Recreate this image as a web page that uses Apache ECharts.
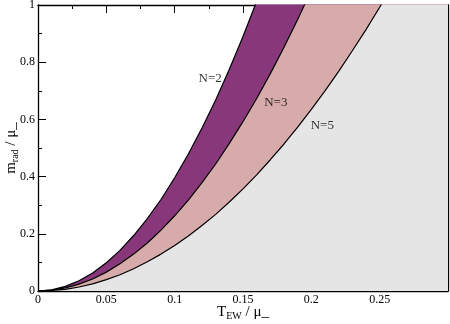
<!DOCTYPE html>
<html>
<head>
<meta charset="utf-8">
<script src="https://cdn.jsdelivr.net/npm/echarts@6/dist/echarts.min.js"></script>
<style>
  html, body { margin: 0; padding: 0; background: #fff; }
  #main { width: 450px; height: 324px; }
</style>
</head>
<body>
<div id="main"></div>
<script>
// values (x = T_EW / mu_, y = m_rad / mu_)
const curveN2 = [
  [0, 0], [0.01, 0.004], [0.02, 0.016], [0.03, 0.036], [0.04, 0.063], [0.05, 0.099],
  [0.06, 0.142], [0.07, 0.194], [0.08, 0.253], [0.09, 0.320], [0.10, 0.396],
  [0.11, 0.479], [0.12, 0.570], [0.13, 0.668], [0.14, 0.775], [0.15, 0.890],
  [0.16, 1.013], [0.17, 1.143], [0.30, 3.56]
]
const curveN3 = [
  [0, 0], [0.01, 0.003], [0.02, 0.011], [0.03, 0.024], [0.04, 0.042], [0.05, 0.066],
  [0.06, 0.095], [0.07, 0.129], [0.08, 0.168], [0.09, 0.213], [0.10, 0.263],
  [0.11, 0.318], [0.12, 0.379], [0.13, 0.444], [0.14, 0.516], [0.15, 0.592],
  [0.16, 0.673], [0.17, 0.760], [0.18, 0.852], [0.19, 0.949], [0.20, 1.052],
  [0.21, 1.160], [0.30, 2.37]
]
const curveN5 = [
  [0, 0], [0.01, 0.002], [0.02, 0.006], [0.03, 0.014], [0.04, 0.025], [0.05, 0.040],
  [0.06, 0.057], [0.07, 0.078], [0.08, 0.102], [0.09, 0.129], [0.10, 0.159],
  [0.11, 0.192], [0.12, 0.229], [0.13, 0.268], [0.14, 0.311], [0.15, 0.357],
  [0.16, 0.406], [0.17, 0.459], [0.18, 0.514], [0.19, 0.573], [0.20, 0.635],
  [0.21, 0.700], [0.22, 0.768], [0.23, 0.840], [0.24, 0.914], [0.25, 0.992],
  [0.26, 1.073], [0.27, 1.157], [0.30, 1.43]
]
// curve labels
const curveLabels = [
  { name: 'N=2', value: [0.126, 0.743] },
  { name: 'N=3', value: [0.174, 0.659] },
  { name: 'N=5', value: [0.208, 0.578] }
]
const xTicks = [0, 0.05, 0.1, 0.15, 0.2, 0.25]

const font = 'Liberation Serif'

let tickCommon = {
  axisLine: { show: true, onZero: false, lineStyle: { color: '#000', width: 1.3 } },
  axisTick: { show: true, inside: true, length: 8, lineStyle: { color: '#000', width: 1 } },
  minorTick: { show: true, splitNumber: 2, length: 4, lineStyle: { color: '#000', width: 1 } },
  splitLine: { show: false }
}

// subscript style for axis titles
const titleRich = {
  m: { fontFamily: font, fontSize: 15, color: '#000' },
  s: { fontFamily: font, fontSize: 10, color: '#000', verticalAlign: 'bottom', padding: [7, 0, 0, 0] }
}

function areaSeries (name, data, color) {
  return {
    name: name,
    type: 'line',
    data: data,
    smooth: false,
    symbol: 'none',
    clip: true,
    lineStyle: { color: '#000', width: 1.2 },
    areaStyle: { color: color, opacity: 1, origin: 'start' }
  }
}

let myChart = echarts.init(document.getElementById('main'), null, { renderer: 'canvas' })
let option = {
  animation: false,
  textStyle: { fontFamily: font },
  grid: { left: 38, right: 2, top: 5, bottom: 33, containLabel: false, outerBoundsMode: 'none' },
  xAxis: [
    Object.assign({
      type: 'value',
      min: 0,
      max: 0.3,
      interval: 0.05,
      position: 'bottom',
      name: '{m|T}{s|EW}{m| / μ_}',
      nameLocation: 'middle',
      nameGap: 13,
      nameMoveOverlap: false,
      nameTextStyle: { rich: titleRich },
      axisLabel: {
        color: '#000',
        fontFamily: font,
        fontSize: 12,
        margin: 3,
        formatter: function (v) {
          for (let t of xTicks) { if (Math.abs(t - v) < 1e-9) return String(t) }
          return ''
        }
      }
    }, tickCommon),
    Object.assign({
      type: 'value',
      min: 0,
      max: 0.3,
      interval: 0.05,
      position: 'top',
      axisLabel: { show: false }
    }, tickCommon)
  ],
  yAxis: [
    Object.assign({
      type: 'value',
      min: 0,
      max: 1,
      interval: 0.2,
      position: 'left',
      name: '{m|m}{s|rad}{m| / μ_}',
      nameLocation: 'middle',
      nameGap: 18,
      nameMoveOverlap: false,
      nameRotate: 90,
      nameTextStyle: { rich: titleRich },
      axisLabel: { color: '#000', fontFamily: font, fontSize: 12, margin: 3 }
    }, tickCommon),
    Object.assign({
      type: 'value',
      min: 0,
      max: 1,
      interval: 0.2,
      position: 'right',
      axisLabel: { show: false }
    }, tickCommon)
  ],
  series: [
    areaSeries('N=2', curveN2, '#87377a'),
    areaSeries('N=3', curveN3, '#d6abaa'),
    areaSeries('N=5', curveN5, '#e5e5e5'),
    {
      type: 'scatter',
      data: curveLabels,
      symbolSize: 0,
      z: 10,
      label: {
        show: true,
        position: 'inside',
        formatter: '{b}',
        color: '#000',
        fontFamily: font,
        fontSize: 13
      }
    }
  ]
}
myChart.setOption(option, true)
</script>
</body>
</html>
